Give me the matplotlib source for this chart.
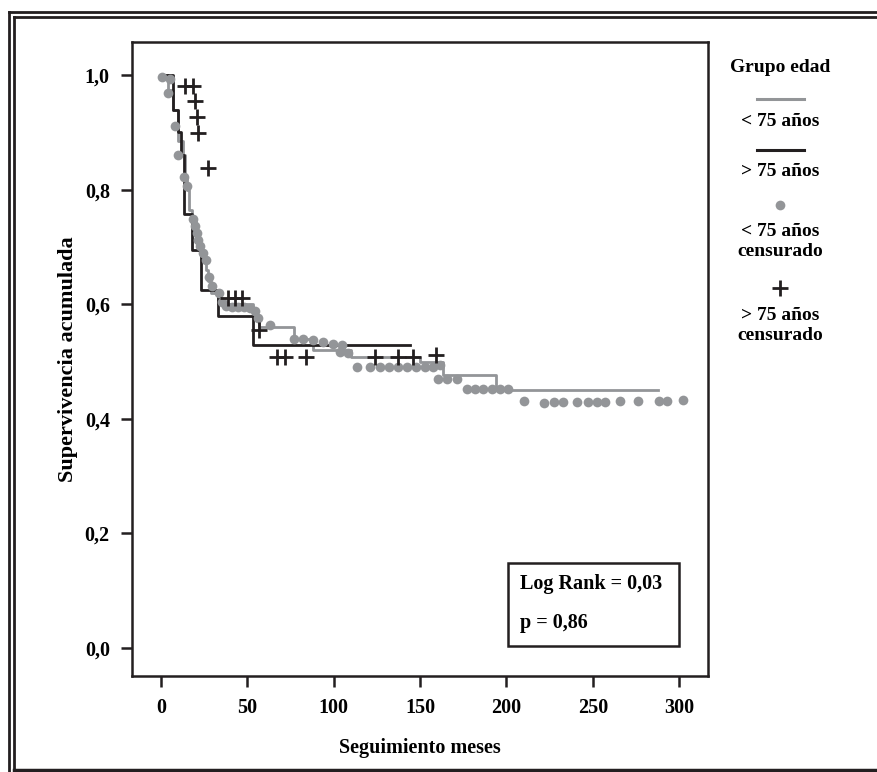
import matplotlib
matplotlib.use("Agg")
import matplotlib.pyplot as plt
from matplotlib.lines import Line2D
from matplotlib.patches import Rectangle

plt.rcParams['font.family'] = ['Liberation Serif', 'DejaVu Serif']
plt.rcParams['font.weight'] = 'bold'

GRAY = '#939598'
BLACK = '#231f20'

# ---- data ----
# < 75 years: step curve (time of change, survival after change)
young_times = [0, 4, 7, 10, 13, 14, 15, 16, 18, 20, 22, 24, 26, 27, 29, 33, 53, 55, 57, 77, 88, 110, 150, 163, 194, 288]
young_surv = [1.0, 0.975, 0.94, 0.885, 0.86, 0.82, 0.80, 0.765, 0.745, 0.72, 0.70, 0.68, 0.66, 0.64, 0.62, 0.60, 0.585, 0.575, 0.56, 0.54, 0.52, 0.508, 0.50, 0.476, 0.45, 0.45]

# > 75 years
old_times = [0, 7, 10, 11.6, 13.3, 18, 23, 33, 53, 144]
old_surv = [1.0, 0.94, 0.90, 0.86, 0.757, 0.695, 0.625, 0.58, 0.529, 0.529]

# censored < 75
young_cens_t = [0.6, 5.2, 4.1, 8.1, 9.8, 13.3, 15.1, 18.5, 19.7, 20.8, 21.4, 22.6, 24.3, 26.1, 27.8,
                29.5, 33.6, 35.3, 37.6, 41.1, 44.6, 48.1, 51.5, 54.4, 56.2, 63.1, 77.0, 82.2, 88.0,
                93.8, 99.6, 104.8, 103.6, 108.3, 113.5, 121.0, 126.8, 132.0, 137.2, 142.4, 147.7,
                152.9, 157.5, 161.6, 160.4, 165.6, 171.4, 177.2, 181.8, 186.4, 191.7, 196.3, 200.9,
                210.2, 221.8, 227.6, 232.8, 240.9, 247.2, 252.5, 257.1, 265.8, 276.2, 288.4, 293.0, 302.3]
young_cens_s = [0.997, 0.993, 0.969, 0.911, 0.860, 0.822, 0.806, 0.749, 0.736, 0.724, 0.712, 0.702,
                0.689, 0.677, 0.647, 0.632, 0.620, 0.604, 0.597, 0.595, 0.595, 0.595, 0.593, 0.588,
                0.576, 0.564, 0.539, 0.539, 0.538, 0.534, 0.531, 0.529, 0.517, 0.515, 0.490, 0.490,
                0.490, 0.490, 0.490, 0.490, 0.490, 0.490, 0.490, 0.494, 0.469, 0.469, 0.469, 0.452,
                0.452, 0.452, 0.452, 0.452, 0.452, 0.431, 0.428, 0.429, 0.429, 0.429, 0.429, 0.429,
                0.429, 0.431, 0.431, 0.431, 0.431, 0.433]

# censored > 75
old_cens_t = [13.9, 18.5, 19.7, 20.8, 21.4, 27.2, 38.8, 42.8, 46.9, 56.5, 67, 72, 84, 124, 137, 146, 159]
old_cens_s = [0.982, 0.982, 0.955, 0.927, 0.899, 0.838, 0.611, 0.611, 0.611, 0.556, 0.508, 0.508, 0.508,
              0.508, 0.508, 0.508, 0.511]

xticks = [0, 50, 100, 150, 200, 250, 300]
yticks = [0.0, 0.2, 0.4, 0.6, 0.8, 1.0]
ytick_labels = ['0,0', '0,2', '0,4', '0,6', '0,8', '1,0']

W, H = 877, 772
fig = plt.figure(figsize=(W / 100, H / 100), dpi=100)

def fx(px):
    return px / W

def fy(py):
    return 1 - py / H

ax = fig.add_axes([fx(132), fy(676), fx(708) - fx(132), fy(42) - fy(676)])
ax.set_xlim(-16.8, 316.7)
ax.set_ylim(-0.049, 1.058)

ax.step(young_times, young_surv, where='post', color=GRAY, lw=2.0, zorder=2)
ax.step(old_times, old_surv, where='post', color=BLACK, lw=2.0, zorder=3)
ax.plot(young_cens_t, young_cens_s, 'o', color=GRAY, ms=7, mec='none', zorder=4)
ax.plot(old_cens_t, old_cens_s, '+', color=BLACK, ms=11, mew=2.0, zorder=5)

ax.set_xticks(xticks)
ax.set_xticklabels([str(v) for v in xticks])
ax.set_yticks(yticks)
ax.set_yticklabels(ytick_labels)
ax.tick_params(axis='both', labelsize=14.5, width=1.8, length=8, color=BLACK, pad=8)
for s in ax.spines.values():
    s.set_linewidth(1.8)
    s.set_color(BLACK)
for lab in ax.get_xticklabels() + ax.get_yticklabels():
    lab.set_fontweight('bold')

ax.set_xlabel('Seguimiento meses', fontsize=14.5, fontweight='bold', labelpad=14)
ax.set_ylabel('Supervivencia acumulada', fontsize=16, fontweight='bold', labelpad=5)

# text box with log rank
box = Rectangle((fx(508), fy(646)), fx(679) - fx(508), fy(563) - fy(646), transform=fig.transFigure,
                fill=False, ec=BLACK, lw=1.8)
fig.add_artist(box)
fig.text(fx(520), fy(584), 'Log Rank = 0,03', fontsize=14.5, fontweight='bold', va='center', ha='left')
fig.text(fx(520), fy(623), 'p = 0,86', fontsize=14.5, fontweight='bold', va='center', ha='left')

# legend
cx = 780
fig.text(fx(cx), fy(68), 'Grupo edad', fontsize=14, fontweight='bold', ha='center', va='center')
fig.add_artist(Line2D([fx(757), fx(804)], [fy(99), fy(99)], color=GRAY, lw=2.2))
fig.text(fx(cx), fy(121), '< 75 años', fontsize=14, fontweight='bold', ha='center', va='center')
fig.add_artist(Line2D([fx(757), fx(804)], [fy(150), fy(150)], color=BLACK, lw=2.2))
fig.text(fx(cx), fy(171), '> 75 años', fontsize=14, fontweight='bold', ha='center', va='center')
fig.add_artist(Line2D([fx(cx)], [fy(205)], marker='o', color=GRAY, ms=7, mec='none', ls='none'))
fig.text(fx(cx), fy(231), '< 75 años', fontsize=14, fontweight='bold', ha='center', va='center')
fig.text(fx(cx), fy(251), 'censurado', fontsize=14, fontweight='bold', ha='center', va='center')
fig.add_artist(Line2D([fx(cx)], [fy(288)], marker='+', color=BLACK, ms=11, mew=2.0, ls='none'))
fig.text(fx(cx), fy(315), '> 75 años', fontsize=14, fontweight='bold', ha='center', va='center')
fig.text(fx(cx), fy(335), 'censurado', fontsize=14, fontweight='bold', ha='center', va='center')

# outer double frame
fl = 2.0
fig.add_artist(Line2D([fx(9), fx(9)], [fy(11.5), 0], color=BLACK, lw=fl))
fig.add_artist(Line2D([fx(9), 1], [fy(11.5), fy(11.5)], color=BLACK, lw=fl))
fig.add_artist(Line2D([fx(14), fx(14)], [fy(17), fy(770)], color=BLACK, lw=fl))
fig.add_artist(Line2D([fx(14), 1], [fy(17), fy(17)], color=BLACK, lw=fl))
fig.add_artist(Line2D([fx(14), 1], [fy(770), fy(770)], color=BLACK, lw=2.5))

fig.savefig('out.png', dpi=100)
